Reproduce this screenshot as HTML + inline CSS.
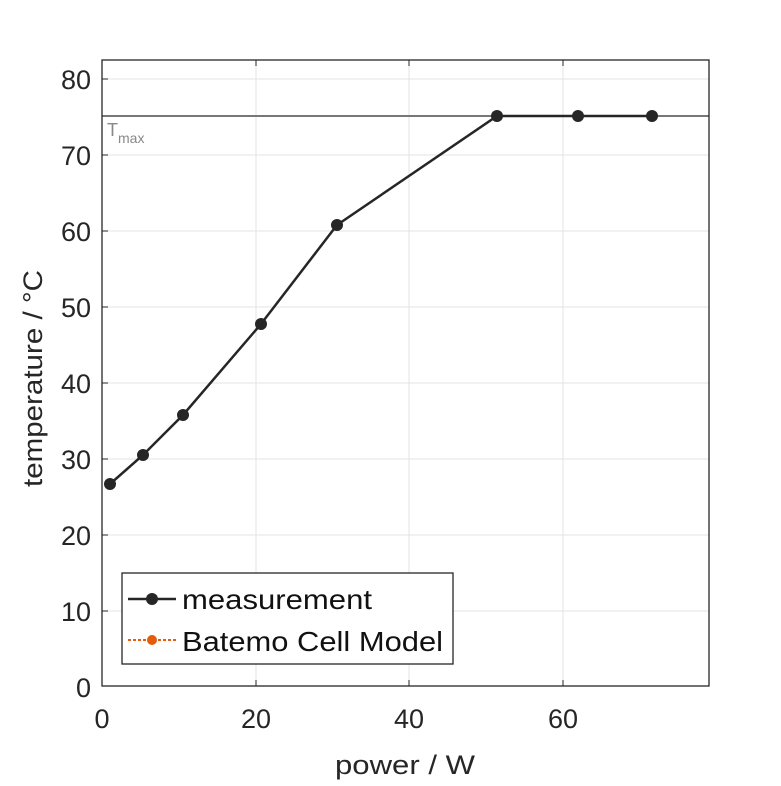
<!DOCTYPE html>
<html><head><style>body{margin:0;background:#fff}</style></head><body>
<svg width="781" height="781" xmlns="http://www.w3.org/2000/svg" font-family="Liberation Sans, DejaVu Sans, sans-serif">
<rect width="781" height="781" fill="#fff"/>
<g stroke="#e3e3e3" stroke-width="1">
<line x1="256" y1="60" x2="256" y2="686"/><line x1="409" y1="60" x2="409" y2="686"/><line x1="563" y1="60" x2="563" y2="686"/>
<line x1="102" y1="79" x2="709" y2="79"/><line x1="102" y1="155" x2="709" y2="155"/><line x1="102" y1="231" x2="709" y2="231"/><line x1="102" y1="307" x2="709" y2="307"/><line x1="102" y1="383" x2="709" y2="383"/><line x1="102" y1="459" x2="709" y2="459"/><line x1="102" y1="535" x2="709" y2="535"/><line x1="102" y1="611" x2="709" y2="611"/>
</g>
<line x1="102" y1="116" x2="709" y2="116" stroke="#777" stroke-width="2"/>
<text x="107" y="136" font-size="18" fill="#888">T<tspan font-size="14" dy="7">max</tspan></text>
<rect x="102" y="60" width="607" height="626" fill="none" stroke="#262626" stroke-width="1.3"/>
<g stroke="#262626" stroke-width="1">
<line x1="256" y1="686" x2="256" y2="680"/><line x1="409" y1="686" x2="409" y2="680"/><line x1="563" y1="686" x2="563" y2="680"/>
<line x1="256" y1="60" x2="256" y2="66"/><line x1="409" y1="60" x2="409" y2="66"/><line x1="563" y1="60" x2="563" y2="66"/>
<line x1="102" y1="79" x2="108" y2="79"/><line x1="102" y1="155" x2="108" y2="155"/><line x1="102" y1="231" x2="108" y2="231"/><line x1="102" y1="307" x2="108" y2="307"/><line x1="102" y1="383" x2="108" y2="383"/><line x1="102" y1="459" x2="108" y2="459"/><line x1="102" y1="535" x2="108" y2="535"/><line x1="102" y1="611" x2="108" y2="611"/>
</g>
<polyline points="110,484 143,455 183,415 261,324 337,225 497,116 578,116 652,116" fill="none" stroke="#262626" stroke-width="2.5"/>
<g fill="#262626"><circle cx="110" cy="484" r="6"/><circle cx="143" cy="455" r="6"/><circle cx="183" cy="415" r="6"/><circle cx="261" cy="324" r="6"/><circle cx="337" cy="225" r="6"/><circle cx="497" cy="116" r="6"/><circle cx="578" cy="116" r="6"/><circle cx="652" cy="116" r="6"/></g>
<g font-size="27" fill="#262626" text-anchor="end">
<text x="91" y="89">80</text><text x="91" y="165">70</text><text x="91" y="241">60</text><text x="91" y="317">50</text><text x="91" y="393">40</text><text x="91" y="469">30</text><text x="91" y="545">20</text><text x="91" y="621">10</text><text x="91" y="697">0</text>
</g>
<g font-size="27" fill="#262626" text-anchor="middle">
<text x="102" y="728">0</text><text x="256" y="728">20</text><text x="409" y="728">40</text><text x="563" y="728">60</text>
</g>
<text x="335" y="774" font-size="27" fill="#262626" textLength="140" lengthAdjust="spacingAndGlyphs">power / W</text>
<text transform="translate(42,487) rotate(-90)" font-size="27" fill="#262626" textLength="217" lengthAdjust="spacingAndGlyphs">temperature / °C</text>
<rect x="122" y="573" width="331" height="91" fill="#fff" stroke="#262626" stroke-width="1.3"/>
<line x1="128" y1="599" x2="176" y2="599" stroke="#262626" stroke-width="2.5"/><circle cx="152" cy="599" r="6" fill="#262626"/>
<line x1="128" y1="640" x2="176" y2="640" stroke="#e65c0e" stroke-width="2" stroke-dasharray="3,2"/><circle cx="152" cy="640" r="5" fill="#e65c0e"/>
<text x="182" y="609" font-size="28" fill="#111" textLength="190" lengthAdjust="spacingAndGlyphs">measurement</text>
<text x="182" y="651" font-size="28" fill="#111" textLength="261" lengthAdjust="spacingAndGlyphs">Batemo Cell Model</text>
</svg>
</body></html>
